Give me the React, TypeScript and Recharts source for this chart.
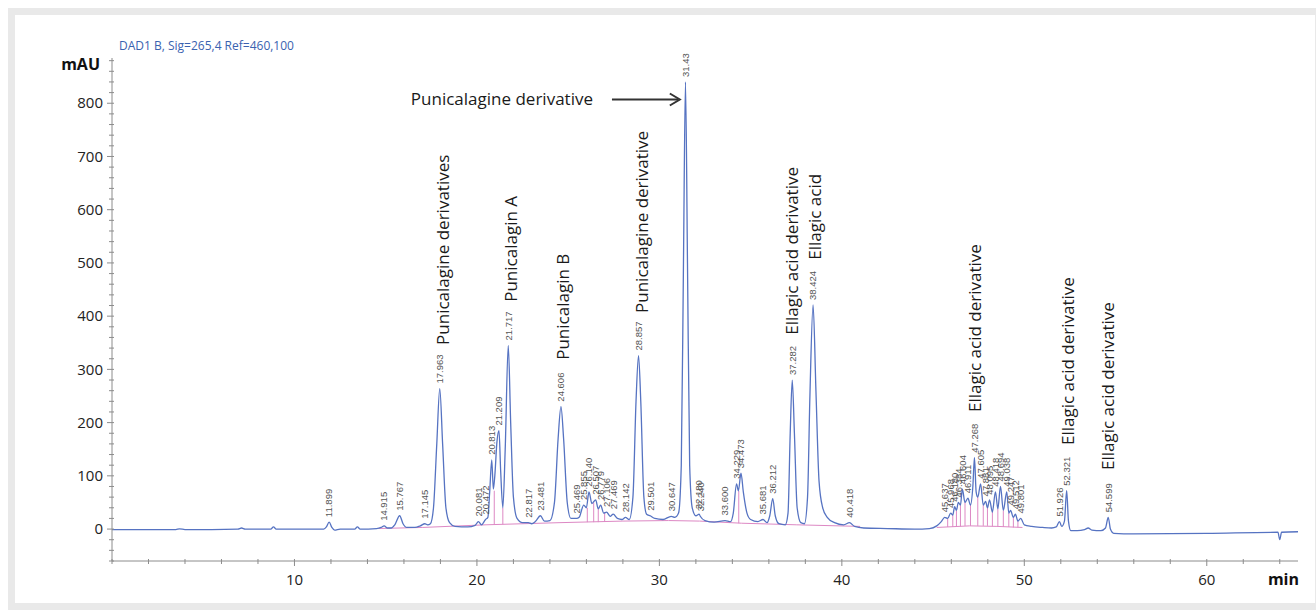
import React from "react";
import { ComposedChart, Line, Scatter, XAxis, YAxis, ReferenceLine } from "recharts";

// retention time (min) / absorbance (mAU) pairs
const traceEarly = [
  [0, -1], [2, -1], [3.5, -1], [3.7, 0.5], [4, -1], [6.9, 0], [7.1, 2], [7.3, 0], [8.7, 0],
  [8.85, 4], [9.0, 0], [10.5, 0], [11.6, 0], [11.75, 4], [11.9, 13], [12.05, 3], [12.2, -2],
  [12.5, 0], [13.3, 0], [13.45, 4], [13.6, 0], [14.5, 1], [14.75, 3], [14.915, 6], [15.1, 2],
  [15.3, 2], [15.5, 8], [15.767, 25], [15.95, 10], [16.15, 3], [16.6, 3], [16.9, 6],
  [17.145, 10], [17.3, 8], [17.45, 10], [17.62, 40], [17.8, 160], [17.963, 264], [18.12, 160],
  [18.3, 40], [18.5, 12], [18.8, 5], [19.5, 4], [19.9, 7], [20.081, 14], [20.25, 8],
  [20.472, 18], [20.6, 22], [20.7, 70], [20.813, 130], [20.9, 75], [20.98, 100], [21.1, 165],
  [21.209, 185], [21.3, 110], [21.42, 40], [21.55, 150], [21.717, 345], [21.85, 200],
  [22.0, 60], [22.2, 20], [22.5, 12], [22.817, 12], [23.0, 10], [23.2, 14], [23.481, 25],
  [23.7, 15], [24.0, 16], [24.25, 50], [24.45, 170], [24.606, 230], [24.75, 170], [24.95, 50],
  [25.15, 20], [25.469, 20], [25.6, 22], [25.855, 45], [26.0, 40], [26.14, 70], [26.3, 48],
  [26.507, 55], [26.65, 38], [26.779, 45], [26.95, 30], [27.106, 32], [27.3, 24], [27.469, 28],
  [27.7, 20], [27.95, 18], [28.142, 22], [28.35, 18],
];

const traceMid = [
  [28.55, 60], [28.72, 240], [28.857, 326], [28.98, 240], [29.15, 60], [29.3, 28], [29.501, 25],
  [29.75, 20], [30.2, 18], [30.647, 24], [30.85, 22], [31.05, 30], [31.2, 120], [31.32, 500],
  [31.43, 840], [31.54, 500], [31.66, 120], [31.8, 40], [32.0, 25], [32.18, 28], [32.24, 24],
  [32.5, 16], [33.0, 13], [33.6, 16], [33.9, 14], [34.05, 30], [34.229, 85], [34.33, 72],
  [34.473, 105], [34.6, 70], [34.8, 30], [35.0, 18], [35.4, 14], [35.681, 18], [35.9, 12],
  [36.05, 25], [36.212, 57], [36.35, 25], [36.55, 10], [36.9, 8], [37.05, 30], [37.17, 180],
  [37.282, 280], [37.4, 180], [37.55, 40], [37.75, 12], [37.95, 10], [38.12, 60], [38.25, 250],
  [38.424, 421], [38.58, 260], [38.75, 90], [38.95, 40], [39.2, 22], [39.6, 12], [40.1, 8],
  [40.418, 12], [40.7, 5], [41.2, 2], [42.5, 1], [44, 0],
];

const traceLate = [
  [44.8, 1], [45.2, 6], [45.45, 14], [45.637, 22], [45.8, 20], [45.968, 30], [46.08, 26],
  [46.18, 42], [46.28, 35], [46.384, 50], [46.5, 45], [46.604, 75], [46.75, 50], [46.911, 58],
  [47.05, 45], [47.18, 80], [47.268, 134], [47.36, 70], [47.45, 60], [47.605, 85], [47.75, 45],
  [47.881, 52], [47.98, 40], [48.095, 55], [48.25, 32], [48.418, 70], [48.55, 38], [48.694, 80],
  [48.85, 35], [49.038, 70], [49.15, 30], [49.247, 35], [49.4, 22], [49.512, 28], [49.65, 15],
  [49.801, 20], [50.0, 8], [50.4, 5], [51.0, 3], [51.5, 2], [51.75, 4], [51.926, 14], [52.05, 5],
  [52.2, 15], [52.321, 72], [52.42, 15], [52.55, -3], [52.9, -3], [53.3, -1], [53.5, 2],
  [53.7, -2], [54.2, -3], [54.45, 2], [54.599, 22], [54.72, 0], [54.9, -8], [56, -9], [60, -8],
  [63.9, -6], [64.0, -20], [64.1, -6], [65, -5],
];

// integration baselines (pink)
const baselineA = [[14.6, 1], [17.0, 3], [20.5, 8], [24.5, 12], [28, 15], [30.5, 16], [32.2, 15], [34.5, 11], [37.5, 8], [41, 5]];
const baselineB = [[45.2, 3], [47.0, 6], [48.5, 5], [49.9, 3]];

// drop lines: time, low, high
const drops = [
  [20.95, 8, 72], [21.42, 9, 40], [26.05, 13, 40], [26.4, 13, 50], [26.65, 13, 38], [27.0, 14, 31],
  [34.35, 11, 72], [45.8, 4, 20], [46.08, 4, 26], [46.28, 5, 35], [46.5, 5, 45], [46.75, 6, 50],
  [47.05, 6, 45], [47.45, 6, 60], [47.75, 6, 45], [47.98, 6, 40], [48.25, 5, 32], [48.55, 5, 38],
  [48.85, 4, 35], [49.15, 4, 30], [49.4, 3, 22], [49.65, 3, 15],
];

// retention time labels and apex heights
const peakLabels = [
  ["11.899", 13], ["14.915", 6], ["15.767", 25], ["17.145", 10], ["17.963", 264], ["20.081", 14],
  ["20.472", 18], ["20.813", 130], ["21.209", 185], ["21.717", 345], ["22.817", 12], ["23.481", 25],
  ["24.606", 230], ["25.469", 20], ["25.855", 45], ["26.140", 70], ["26.507", 55], ["26.779", 45],
  ["27.106", 32], ["27.469", 28], ["28.142", 22], ["28.857", 326], ["29.501", 25], ["30.647", 24],
  ["31.43", 840], ["32.180", 28], ["32.240", 24], ["33.600", 16], ["34.229", 85], ["34.473", 105],
  ["35.681", 18], ["36.212", 57], ["37.282", 280], ["38.424", 421], ["40.418", 12], ["45.637", 22],
  ["45.968", 30], ["46.180", 42], ["46.384", 50], ["46.604", 75], ["46.911", 58], ["47.268", 134],
  ["47.605", 85], ["47.881", 52], ["48.095", 55], ["48.418", 70], ["48.694", 80], ["49.038", 70],
  ["49.247", 35], ["49.512", 28], ["49.801", 20], ["51.926", 14], ["52.321", 72], ["54.599", 22],
];

// compound names: text, time, bottom of text (mAU)
const compoundNames = [
  ["Punicalagine derivatives", 18.14, 346],
  ["Punicalagin A", 21.86, 427],
  ["Punicalagin B", 24.71, 318],
  ["Punicalagine derivative", 29.04, 406],
  ["Ellagic acid derivative", 37.26, 365],
  ["Ellagic acid", 38.52, 506],
  ["Ellagic acid derivative", 47.29, 220],
  ["Ellagic acid derivative", 52.38, 158],
  ["Ellagic acid derivative", 54.58, 111],
];

const arrowNote = { text: "Punicalagine derivative", t: 16.38, v: 807, from: 27.4, to: 31.12 };

const xTicks = [0, 2, 4, 6, 8, 10, 12, 14, 16, 18, 20, 22, 24, 26, 28, 30, 32, 34, 36, 38, 40, 42, 44, 46, 48, 50, 52, 54, 56, 58, 60, 62, 64];
const xLabels = [10, 20, 30, 40, 50, 60];
const yTicks = [-60, -40, -20, 0, 20, 40, 60, 80, 100, 120, 140, 160, 180, 200, 220, 240, 260, 280, 300, 320, 340, 360, 380, 400, 420, 440, 460, 480, 500, 520, 540, 560, 580, 600, 620, 640, 660, 680, 700, 720, 740, 760, 780, 800, 820, 840, 860, 880];
const yLabels = [0, 100, 200, 300, 400, 500, 600, 700, 800];

const toPts = (rows: number[][]) => rows.map(([t, v]) => ({ t, v }));
const trace = toPts([...traceEarly, ...traceMid, ...traceLate]);

const FONT = "'Open Sans', 'Noto Sans', sans-serif";
const AXIS = "#8c8c8c";
const PINK = "#dd88c4";

const XTick = ({ x, y, payload }: any) => {
  const major = xLabels.includes(payload.value);
  return (
    <g>
      <line x1={x} x2={x} y1={y - 2} y2={y + (major ? 5 : 3)} stroke={AXIS} />
      {major && (
        <text x={x} y={y + 24} textAnchor="middle" fontSize={15} fill="#222" fontFamily={FONT}>
          {payload.value}
        </text>
      )}
    </g>
  );
};

const YTick = ({ x, y, payload }: any) => {
  const major = yLabels.includes(payload.value);
  return (
    <g>
      <line x1={x - (major ? 5 : 3)} x2={x + 2} y1={y} y2={y} stroke={AXIS} />
      {major && (
        <text x={x - 9} y={y} dy="0.35em" textAnchor="end" fontSize={15} fill="#222" fontFamily={FONT}>
          {payload.value}
        </text>
      )}
    </g>
  );
};

const RtLabel = (p: any) => (
  <text
    transform={`translate(${p.cx},${p.cy - 5}) rotate(-90)`}
    dy="0.35em"
    fontSize={9.5}
    fill="#555"
    fontFamily="'Liberation Sans', Arial, sans-serif"
  >
    {p.payload.label}
  </text>
);

const NameLabel = (p: any) => (
  <text
    transform={`translate(${p.cx},${p.cy}) rotate(-90)`}
    dy="0.35em"
    fontSize={17}
    fill="#1a1a1a"
    fontFamily={FONT}
  >
    {p.payload.label}
  </text>
);

const NoteLabel = (p: any) => (
  <text x={p.cx} y={p.cy} dy="0.35em" fontSize={17} fill="#1a1a1a" fontFamily={FONT}>
    {p.payload.label}
  </text>
);

const ArrowHead = (p: any) => (
  <path d={`M${p.cx - 10},${p.cy - 6} L${p.cx},${p.cy} L${p.cx - 10},${p.cy + 6}`} fill="none" stroke="#333" strokeWidth={2} />
);

const YTitle = ({ viewBox }: any) => {
  const ax = viewBox.x + viewBox.width;
  return (
    <g>
      <text x={ax - 12} y={viewBox.y + 6} dy="0.35em" textAnchor="end" fontSize={16} fontWeight="bold" fill="#111" fontFamily={FONT}>
        mAU
      </text>
      <text x={ax + 7} y={viewBox.y - 12} dy="0.35em" fontSize={12} fill="#3a62b0" fontFamily={FONT}>
        DAD1 B, Sig=265,4 Ref=460,100
      </text>
    </g>
  );
};

const XTitle = ({ viewBox }: any) => (
  <text x={viewBox.x + viewBox.width + 1} y={viewBox.y + 24} textAnchor="end" fontSize={16} fontWeight="bold" fill="#111" fontFamily={FONT}>
    min
  </text>
);

export default function App() {
  const peaks = peakLabels.map(([label, v]) => ({ t: parseFloat(label as string), v: v as number, label }));
  const names = compoundNames.map(([label, t, v]) => ({ t, v, label }));
  return (
    <div style={{ position: "fixed", inset: 0, background: "#fff" }}>
      <div style={{ position: "absolute", left: 8, top: 8, right: 0, bottom: 0, background: "#e9e9e9" }} />
      <div style={{ position: "absolute", left: 15, top: 15, width: 1300, height: 588, background: "#fff" }} />
      <div style={{ position: "absolute", left: 0, top: 0 }}>
        <ComposedChart width={1316} height={610} margin={{ top: 58, right: 18, bottom: 9, left: 52 }}>
          <XAxis
            type="number"
            dataKey="t"
            domain={[0, 65]}
            ticks={xTicks}
            interval={0}
            height={40}
            tickSize={0}
            tickMargin={0}
            tickLine={false}
            axisLine={{ stroke: AXIS }}
            tick={<XTick />}
            label={<XTitle />}
          />
          <YAxis
            type="number"
            dataKey="v"
            domain={[-60, 885]}
            ticks={yTicks}
            interval={0}
            width={60}
            tickSize={0}
            tickMargin={0}
            tickLine={false}
            axisLine={{ stroke: AXIS }}
            tick={<YTick />}
            label={<YTitle />}
          />
          {drops.map(([t, lo, hi], i) => (
            <ReferenceLine key={i} segment={[{ x: t, y: lo }, { x: t, y: hi }]} stroke={PINK} strokeWidth={1} />
          ))}
          {[baselineA, baselineB].map((b, i) => (
            <Line key={i} data={toPts(b)} dataKey="v" type="linear" stroke={PINK} strokeWidth={1} dot={false} isAnimationActive={false} />
          ))}
          <Line data={trace} dataKey="v" type="monotone" stroke="#5673c2" strokeWidth={1.3} dot={false} isAnimationActive={false} />
          <Scatter data={peaks} dataKey="v" shape={RtLabel} isAnimationActive={false} />
          <Scatter data={names} dataKey="v" shape={NameLabel} isAnimationActive={false} />
          <Scatter data={[{ t: arrowNote.t, v: arrowNote.v, label: arrowNote.text }]} dataKey="v" shape={NoteLabel} isAnimationActive={false} />
          <ReferenceLine segment={[{ x: arrowNote.from, y: arrowNote.v }, { x: arrowNote.to - 0.1, y: arrowNote.v }]} stroke="#333" strokeWidth={2} />
          <Scatter data={[{ t: arrowNote.to, v: arrowNote.v }]} dataKey="v" shape={ArrowHead} isAnimationActive={false} />
        </ComposedChart>
      </div>
    </div>
  );
}
